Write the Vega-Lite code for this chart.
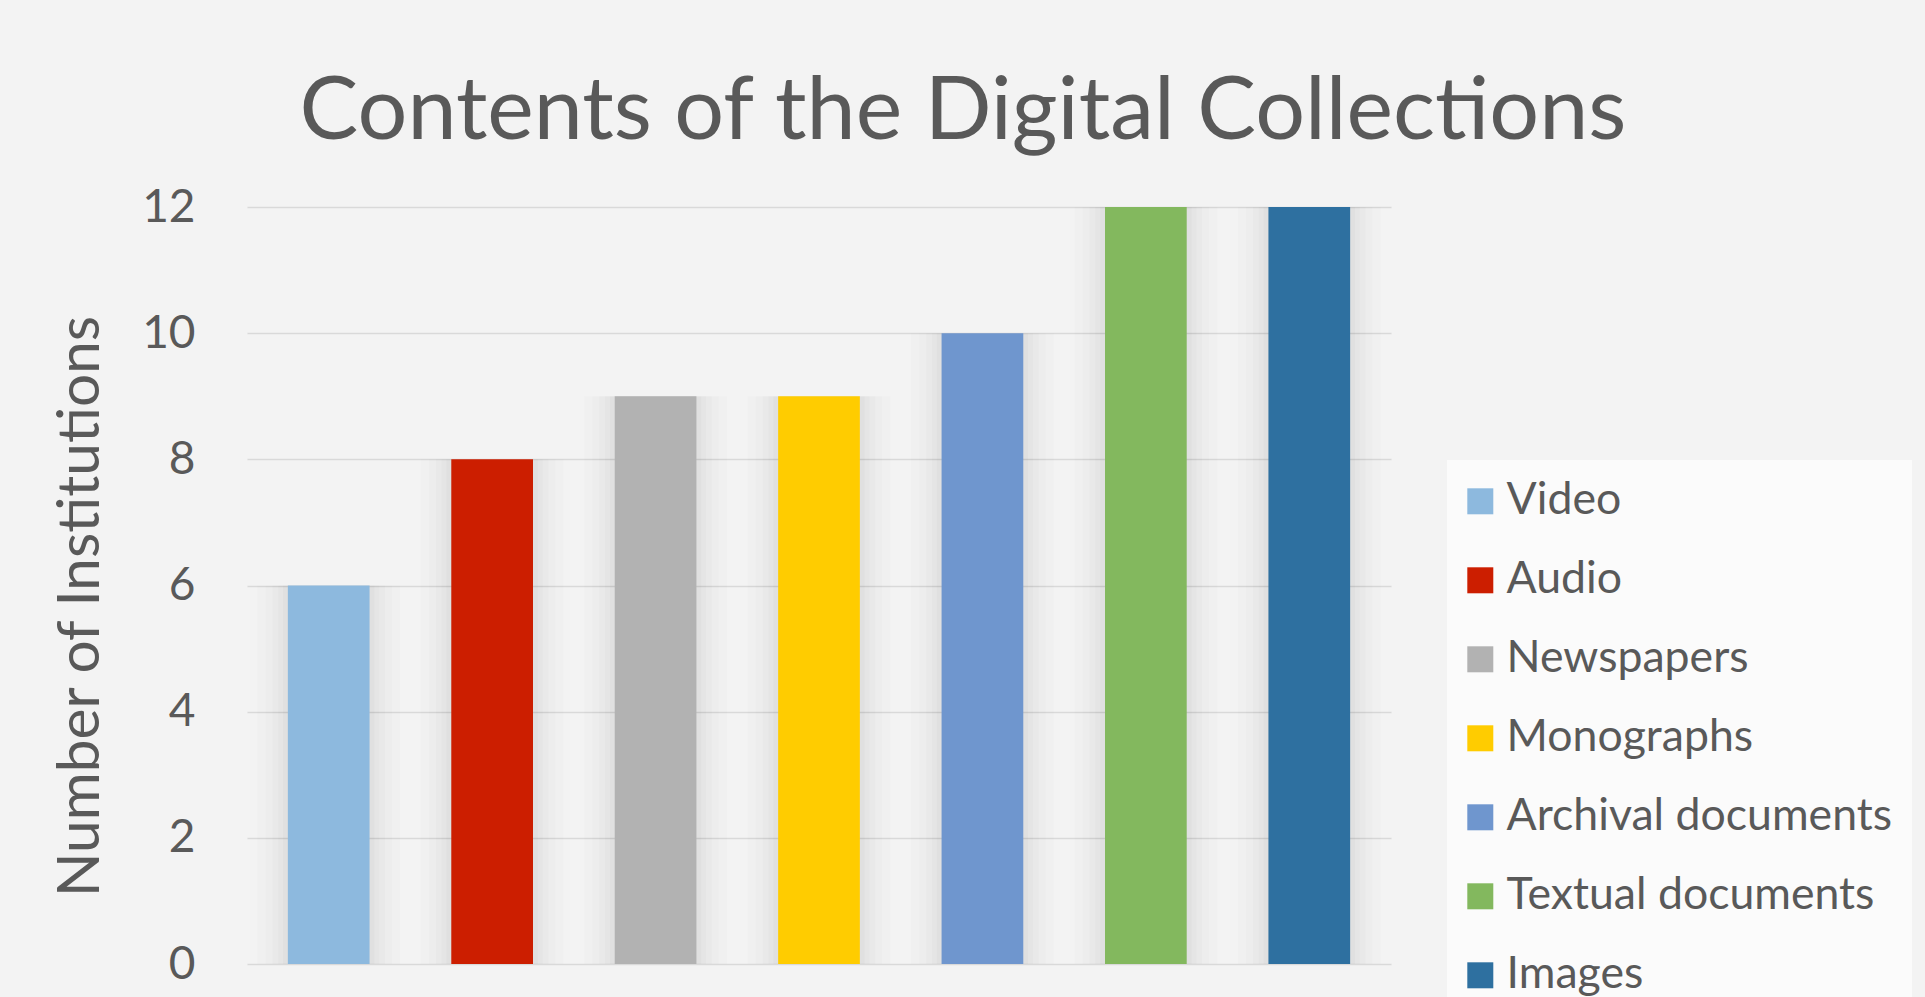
{
  "$schema": "https://vega.github.io/schema/vega-lite/v6.json",
  "autosize": "none",
  "width": 1144,
  "height": 757,
  "padding": {"left": 247, "top": 207, "right": 534, "bottom": 33},
  "background": "#f3f3f3",
  "title": {
    "text": "Contents of the Digital Collections",
    "font": "Lato",
    "fontSize": 88,
    "fontWeight": "normal",
    "color": "#595959",
    "anchor": "middle",
    "frame": "group",
    "dx": 144,
    "dy": 86,
    "baseline": "alphabetic",
    "offset": 43
  },
  "data": {
    "values": [
      {"type": "Video", "count": 6},
      {"type": "Audio", "count": 8},
      {"type": "Newspapers", "count": 9},
      {"type": "Monographs", "count": 9},
      {"type": "Archival documents", "count": 10},
      {"type": "Textual documents", "count": 12},
      {"type": "Images", "count": 12}
    ]
  },
  "encoding": {
    "x": {
      "field": "type",
      "type": "nominal",
      "sort": null,
      "axis": null,
      "scale": {"paddingInner": 0.5, "paddingOuter": 0.25}
    },
    "y": {
      "field": "count",
      "type": "quantitative",
      "scale": {"domain": [0, 12], "nice": false},
      "axis": {
        "values": [0, 2, 4, 6, 8, 10, 12],
        "title": "Number of Institutions",
        "titleFont": "Lato",
        "titleFontSize": 58.5,
        "titleFontWeight": "normal",
        "titleColor": "#595959",
        "titleX": -149,
        "titleY": 399,
        "titleAngle": -90,
        "titleAlign": "center",
        "titleBaseline": "alphabetic",
        "labelFont": "Lato",
        "labelFontSize": 46,
        "labelColor": "#595959",
        "labelPadding": 52,
        "ticks": false,
        "domain": false,
        "grid": true,
        "gridColor": "#d9d9d9",
        "gridWidth": 1.5
      }
    }
  },
  "layer": [
    {"mark": {"type": "bar", "color": "#000000", "opacity": 0.012, "width": {"band": 1.75}}},
    {"mark": {"type": "bar", "color": "#000000", "opacity": 0.012, "width": {"band": 1.55}}},
    {"mark": {"type": "bar", "color": "#000000", "opacity": 0.014, "width": {"band": 1.38}}},
    {"mark": {"type": "bar", "color": "#000000", "opacity": 0.016, "width": {"band": 1.24}}},
    {"mark": {"type": "bar", "color": "#000000", "opacity": 0.018, "width": {"band": 1.12}}},
    {
      "mark": {"type": "bar"},
      "encoding": {
        "color": {
          "field": "type",
          "type": "nominal",
          "sort": null,
          "scale": {
            "domain": ["Video", "Audio", "Newspapers", "Monographs", "Archival documents", "Textual documents", "Images"],
            "range": ["#8db9de", "#cc1e00", "#b2b2b2", "#ffcc00", "#6f96ce", "#83b85e", "#2e70a0"]
          },
          "legend": {
            "orient": "none",
            "legendX": 1200,
            "legendY": 253,
            "title": null,
            "fillColor": "#fbfbfb",
            "padding": 19,
            "symbolType": "square",
            "symbolSize": 676,
            "symbolStrokeWidth": 0,
            "symbolOpacity": 1,
            "symbolOffset": -8,
            "labelFont": "Lato",
            "labelFontSize": 44.6,
            "labelColor": "#595959",
            "labelOffset": 4,
            "labelLimit": 600,
            "rowPadding": 34
          }
        }
      }
    }
  ],
  "config": {
    "view": {"stroke": null}
  }
}
